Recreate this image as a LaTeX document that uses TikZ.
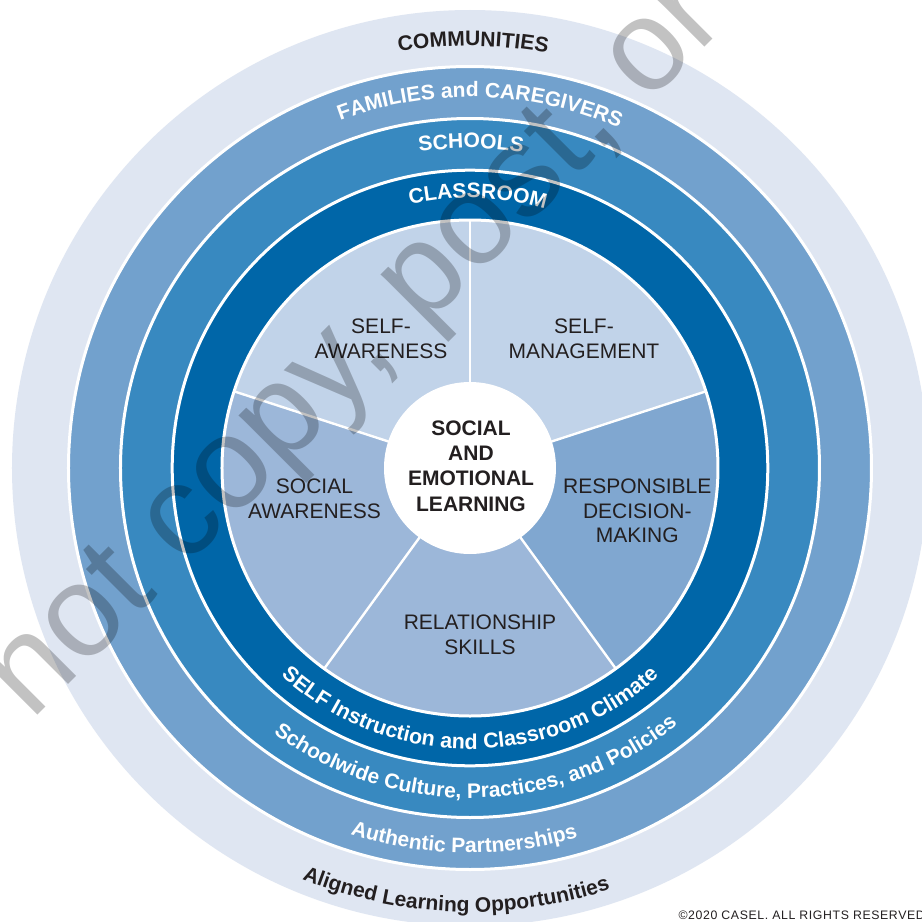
\documentclass[tikz,border=0pt]{standalone}
\usepackage{fontspec}
\setmainfont{Liberation Sans}
\usetikzlibrary{decorations.text}
\definecolor{cComm}{RGB}{223,230,242}
\definecolor{cFam}{RGB}{114,161,205}
\definecolor{cSch}{RGB}{56,137,192}
\definecolor{cCls}{RGB}{0,102,168}
\definecolor{cTop}{RGB}{193,211,233}
\definecolor{cMid}{RGB}{156,183,217}
\definecolor{cDk}{RGB}{128,167,208}
\definecolor{cTxt}{RGB}{35,31,32}
\newcommand\ringfont[1]{\fontsize{#1}{#1}\selectfont\bfseries}
\tikzset{
  sep/.style={draw=white, line width=3pt},
  lbl/.style={font=\fontsize{21}{24.7}\selectfont, align=center, inner sep=0pt, text=cTxt, anchor=north},
  ctr/.style={font=\fontsize{21}{25.3}\selectfont\bfseries, align=center, inner sep=0pt, text=cTxt, anchor=north},
}
\begin{document}
\begin{tikzpicture}[x=1pt,y=1pt]
\useasboundingbox (-470,-454) rectangle (452,468);
\fill[white] (-470,-454) rectangle (452,468);
% rings
\fill[cComm] (0,0) circle[radius=458];
\path[fill=cFam, sep] (0,0) circle[radius=401.5];
\path[fill=cSch, sep] (0,0) circle[radius=349.5];
\path[fill=cCls, sep] (0,0) circle[radius=297.8];
% pie
\fill[cTop] (0,0) -- (18:248) arc[start angle=18, end angle=162, radius=248] -- cycle;
\fill[cMid] (0,0) -- (162:248) arc[start angle=162, end angle=306, radius=248] -- cycle;
\fill[cDk] (0,0) -- (306:248) arc[start angle=306, end angle=378, radius=248] -- cycle;
\draw[white, line width=3pt] (0,0) circle[radius=248];
\foreach \a in {18,90,162,234,306} \draw[white, line width=2.4pt] (0,0) -- (\a:248.5);
\fill[white] (0,0) circle[radius=86];
% pie labels
\node[lbl] (sa) at (-89,149.5) {SELF-\\AWARENESS};
\node[lbl] (sm) at (114,149.5) {SELF-\\MANAGEMENT};
\node[lbl] (soc) at (-155.5,-10.5) {SOCIAL\\AWARENESS};
\node[lbl] (rdm) at (167.3,-10.5) {RESPONSIBLE\\DECISION-\\MAKING};
\node[lbl] (rs) at (10,-146.5) {RELATIONSHIP\\SKILLS};
\node[ctr] (sel) at (1,47.7) {SOCIAL\\AND\\EMOTIONAL\\LEARNING};
% curved ring texts (top)
\path[decorate, decoration={text along path, text align=center, text color=cTxt,
  text={|\ringfont{21}|COMMUNITIES}}] (104.57:422) arc[start angle=104.57, end angle=74.57, radius=422];
\path[decorate, decoration={text along path, text align=center, text color=white,
  text={|\ringfont{21}|FAMILIES and CAREGIVERS}}] (113.4:371) arc[start angle=113.4, end angle=63.4, radius=371];
\path[decorate, decoration={text along path, text align=center, text color=white,
  text={|\ringfont{21}|SCHOOLS}}] (104.8:320) arc[start angle=104.8, end angle=74.8, radius=320];
\path[decorate, decoration={text along path, text align=center, text color=white,
  text={|\ringfont{21}|CLASSROOM}}] (108.35:270) arc[start angle=108.35, end angle=68.35, radius=270];
% curved ring texts (bottom)
\path[decorate, decoration={text along path, text align=center, text color=white,
  text={|\ringfont{21.4}|SELF Instruction and Classroom Climate}}] (220:281) arc[start angle=220, end angle=320, radius=281];
\path[decorate, decoration={text along path, text align=center, text color=white,
  text={|\ringfont{21}|Schoolwide Culture, Practices, and Policies}}] (226.2:330) arc[start angle=226.2, end angle=316.2, radius=330];
\path[decorate, decoration={text along path, text align=center, text color=white,
  text={|\ringfont{21}|Authentic Partnerships}}] (244.1:385) arc[start angle=244.1, end angle=294.1, radius=385];
\path[decorate, decoration={text along path, text align=center, text color=cTxt,
  text={|\ringfont{21}|Aligned Learning Opportunities}}] (238.1:444) arc[start angle=238.1, end angle=298.1, radius=444];
% copyright
\node[anchor=base east, inner sep=0pt, text=cTxt, font=\fontsize{12.3}{13}\selectfont\addfontfeatures{LetterSpace=5}] (copy) at (455,-451.5) {©2020 CASEL. ALL RIGHTS RESERVED};
% watermark
\node[anchor=base west, inner sep=0pt, rotate=45, text=black, text opacity=0.24, font=\fontsize{130}{130}\selectfont] (wm) at (-438.8,-253.4) {not copy, post, or};
\end{tikzpicture}
\end{document}
